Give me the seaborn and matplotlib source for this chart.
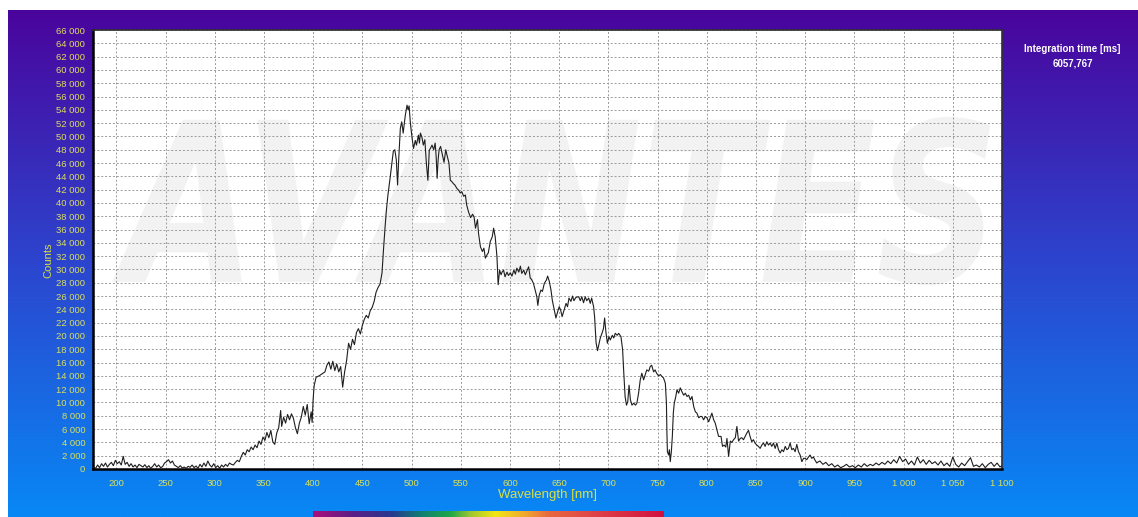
import numpy as np
import pandas as pd
import matplotlib
matplotlib.use("Agg")
import matplotlib.pyplot as plt
import seaborn as sns
from matplotlib.ticker import MultipleLocator, FuncFormatter
from matplotlib.textpath import TextPath
from matplotlib.patches import PathPatch
from matplotlib.font_manager import FontProperties
from matplotlib.colors import LinearSegmentedColormap
from matplotlib.transforms import Affine2D

# ---------------- data ----------------
wl_base = [177, 179, 181, 183, 185, 187, 189, 191, 193, 195,
           197, 199, 201, 203, 205, 207, 209, 211, 213, 215,
           217, 219, 221, 223, 225, 227, 229, 231, 233, 235,
           237, 239, 241, 243, 245, 247, 249, 251, 253, 255,
           257, 259, 261, 263, 265, 267, 269, 271, 273, 275,
           277, 279, 281, 283, 285, 287, 289, 291, 293, 295,
           297, 299, 301, 303, 305, 307, 309, 311, 313, 315]
cnt_base = [300, 100, 600, 200, 800, 400, 900, 300, 700, 1000,
            500, 1300, 800, 1100, 600, 1900, 700, 1000, 400, 800,
            300, 600, 200, 700, 500, 300, 650, 200, 500, 100,
            400, 800, 300, 600, 200, 350, 900, 1100, 1400, 900,
            1200, 600, 400, 200, 500, 150, 300, 100, 400, 250,
            600, 200, 450, 100, 700, 300, 900, 400, 1200, 600,
            300, 800, 200, 500, 100, 600, 300, 700, 400, 900]

wl_rise = [317, 319, 321, 323, 325, 327, 329, 331, 333, 335,
           337, 339, 341, 343, 345, 347, 349, 351, 353, 355,
           357, 359, 361, 363, 365, 367, 368, 370, 372, 374,
           376, 378, 380, 382, 384, 386, 388, 390, 392, 394,
           396, 398, 399, 400, 401, 403, 406, 409, 412, 414,
           416, 418, 420, 422, 424, 426, 428, 430, 432, 434,
           436, 438, 440, 442, 444, 446, 448, 450, 452, 454,
           456, 458, 460, 462, 464, 466, 468, 470]
cnt_rise = [700, 600, 1000, 1300, 1100, 1900, 2500, 2100, 2900, 2600,
            3300, 2900, 3600, 3200, 4200, 3700, 4800, 4300, 5500, 4700,
            5800, 4100, 3700, 5400, 6200, 8800, 6400, 7800, 6900, 8200,
            7400, 8300, 7600, 6200, 5300, 6900, 7800, 9400, 8100, 9700,
            6800, 8600, 7000, 10500, 12500, 13800, 14000, 14300, 14600, 15600,
            16100, 15000, 16200, 14800, 15800, 14600, 15400, 12300, 14600, 16300,
            18900, 18000, 19500, 18700, 20500, 21100, 20300, 21600, 22500, 23100,
            22700, 23800, 24300, 25200, 26600, 27300, 27800, 29500]

wl_peak = [471.5, 473, 474.5, 476, 478, 480, 481.5, 483, 484.5, 485.8,
           487, 488.6, 490, 491.5, 492.5, 493.7, 495.4, 496.5, 497.5, 498.7,
           500.4, 502, 503.8, 505, 507, 508, 509, 510.5, 512, 513.5,
           515, 516.6, 518, 519.5, 520.8, 522.5, 524, 525, 526, 527,
           528, 529.5, 531, 533, 534.8, 536, 538, 539.4, 541, 542.5,
           544, 546, 547.9, 549.5, 551, 553, 554.7, 556, 558, 560]
cnt_peak = [33000, 36200, 39000, 41200, 43500, 46000, 47800, 48000, 46500, 42700,
            46700, 51200, 52200, 50500, 51800, 53200, 54700, 54000, 54600, 52200,
            49900, 48200, 49400, 48700, 50200, 49000, 50500, 49900, 48700, 49500,
            46100, 43400, 47900, 48300, 48700, 48000, 49000, 47000, 43700, 46500,
            48000, 48500, 47500, 46100, 48000, 47200, 46000, 43400, 43200, 42900,
            42700, 42200, 41900, 41500, 41700, 41000, 41200, 39700, 38600, 37800]

wl_mid = [562, 563.5, 565, 567, 568, 570, 572, 573.5, 575, 576.7,
          578, 580, 582, 583.4, 585, 586.8, 588, 589.5, 591, 592,
          593.5, 595, 597, 598.5, 600.4, 602, 604, 605.5, 607, 609,
          610.6, 612, 614, 615.6, 617, 619, 620.6, 622, 623.9, 625.6,
          627.3, 628.3, 629.7, 631.4, 633, 634.9, 637, 638.3, 640, 641.7,
          643, 645, 646.7, 648, 650, 651.5, 653, 655, 657, 658.5,
          660, 662, 663.6, 665, 667, 669.8, 671.5, 673, 674.8, 676.5,
          678, 680, 681.6, 683, 685, 686]
cnt_mid = [38300, 37900, 36200, 37500, 35500, 33400, 32700, 33200, 31700, 32200,
           32500, 34200, 34900, 36200, 34900, 31900, 27700, 29900, 29200, 29600,
           29900, 28900, 29600, 29100, 29500, 29000, 29900, 29300, 30200, 29600,
           30500, 29400, 29900, 29200, 29700, 30400, 28700, 28500, 27900, 26900,
           25900, 24600, 26100, 26900, 26700, 27900, 28400, 29000, 28200, 26900,
           25400, 23900, 22700, 23400, 24400, 23900, 22900, 23900, 24900, 24400,
           25700, 25200, 26000, 25300, 25800, 25900, 25300, 25900, 25000, 25900,
           25300, 25700, 24900, 25700, 24400, 22900]

wl_red = [687.5, 689, 690.5, 691.8, 693.5, 695, 696.2, 697.5, 699, 700.6,
          702, 704, 705.5, 707, 709, 710.5, 712.8, 714.5, 715.5, 717,
          718.4, 719.7, 721, 722.4, 724, 725.7, 727.5, 729, 730.7, 732.4,
          734, 735.8, 737.5, 739, 741, 742.5, 744, 746, 747.5, 749,
          751, 752.8, 754.5, 756, 757.9, 759, 759.5, 760, 761.2, 762,
          762.9, 764, 765, 766, 767, 768.5, 769.7, 771.4, 773.1, 774.8,
          776.5, 778.2, 779.9, 781.6, 783.3, 785, 786.7, 788.4, 790, 791.8,
          793.5, 795, 796.8, 798.5, 800.2, 801.9, 803.5, 805.2, 807, 808.6,
          810.3, 812]
cnt_red = [19000, 17800, 18800, 19700, 20400, 21100, 22700, 20600, 18900, 19900,
           19400, 20100, 19700, 20400, 20100, 20400, 19900, 17900, 14900, 10900,
           9600, 10100, 12600, 10400, 9600, 9900, 9600, 9900, 11400, 13400,
           14400, 13400, 14200, 14900, 14700, 15400, 15600, 14600, 14900, 14400,
           14000, 14200, 13900, 13700, 12900, 9900, 5400, 2600, 2100, 2900,
           1100, 2600, 4900, 8400, 9900, 10900, 11900, 11400, 12200, 11600,
           11100, 11400, 10900, 11100, 10400, 10900, 9400, 8600, 8400, 7700,
           7900, 7900, 7400, 7900, 7700, 7100, 7700, 8400, 7400, 6900,
           5900, 4900]

wl_tail = [814.5, 816, 817.7, 819.3, 820.5, 822.2, 823.9, 825.5, 827.2, 829,
           830.6, 832.3, 834, 835.6, 837.3, 839, 840.7, 842.4, 844, 845.7,
           847.4, 849, 850.8, 852.5, 854.2, 855.9, 857.6, 859.3, 861, 862.7,
           864.4, 866.1, 867.8, 869.5, 871.2, 872.9, 874.6, 876.3, 878, 879.7,
           881.4, 883, 884.7, 886.4, 888.1, 889.8, 891.5, 893.2, 894.9, 896.6,
           898.3, 899.9, 901.6, 903.3, 905, 906.7, 908.4, 910.1, 911.8, 913.5]
cnt_tail = [4900, 3400, 3600, 3300, 4600, 1900, 4200, 4000, 4400, 4700,
            6400, 4200, 4600, 4700, 4400, 4900, 5400, 5800, 4900, 4100,
            4400, 3900, 3600, 3400, 3100, 3600, 3900, 3400, 4100, 3600,
            3900, 3400, 3900, 3100, 3900, 2900, 2400, 2900, 2600, 3400,
            2900, 3100, 3900, 2900, 3100, 2600, 3700, 2600, 2100, 1100,
            1600, 1600, 1400, 1800, 2100, 1600, 1800, 1300, 900, 1100]

wl_ir = [915, 918, 921, 924, 927, 930, 933, 936, 939, 942,
         945, 948, 951, 954, 957, 960, 963, 966, 969, 972,
         975, 978, 981, 984, 987, 990, 993, 996, 999, 1002,
         1005, 1008, 1011, 1014, 1017, 1020, 1023, 1026, 1029, 1032,
         1035, 1038, 1041, 1044, 1047, 1050, 1053, 1056, 1059, 1062,
         1065, 1068, 1071, 1074, 1077, 1080, 1083, 1086, 1089, 1092,
         1095, 1098, 1101]
cnt_ir = [1200, 700, 1000, 500, 800, 300, 600, 200, 400, 700,
          300, 500, 200, 600, 300, 800, 400, 700, 500, 900,
          600, 1000, 700, 1200, 800, 1400, 900, 1900, 1100, 1500,
          700, 1200, 600, 1800, 900, 1400, 700, 1300, 800, 1100,
          600, 1200, 500, 900, 400, 1800, 700, 300, 900, 500,
          1100, 1700, 400, 600, 300, 800, 200, 700, 1000, 400,
          900, 300, 600]

integration_label = "Integration time [ms]"
integration_value = "6057,767"
x_label = "Wavelength [nm]"
y_label = "Counts"
watermark = "AVANTES"

wavelength = wl_base + wl_rise + wl_peak + wl_mid + wl_red + wl_tail + wl_ir
counts = cnt_base + cnt_rise + cnt_peak + cnt_mid + cnt_red + cnt_tail + cnt_ir
df = pd.DataFrame({"Wavelength": wavelength, "Counts": counts})

# ---------------- style ----------------
sns.set_style("white")
plt.rcParams['font.family'] = ['Liberation Sans', 'DejaVu Sans']

W, H = 1138, 517
fig = plt.figure(figsize=(W / 100, H / 100), dpi=100)
fig.patch.set_facecolor('white')

# gradient background
bg = fig.add_axes([8 / W, 0, (W - 8) / W, (H - 10) / H], zorder=-10)
grad = np.linspace(0, 1, 256).reshape(-1, 1)
cmap_bg = LinearSegmentedColormap.from_list(
    'bg', [(0, '#4A049C'), (0.5, '#2C45CE'), (1, '#0888F5')])
bg.imshow(grad, aspect='auto', cmap=cmap_bg, extent=[0, 1, 0, 1], origin='upper')
bg.set_axis_off()

# main axes
ax = fig.add_axes([93 / W, (H - 469) / H, 909 / W, 439 / H])
ax.set_facecolor('white')

# watermark
fp = FontProperties(family='DejaVu Sans', weight='bold', style='italic')
tp = TextPath((0, 0), watermark, prop=fp, size=1)
ext = tp.get_extents()
x0, x1, y0, y1 = 0.021, 0.987, 0.419, 0.802
tr = (Affine2D().translate(-ext.x0, -ext.y0)
      .scale((x1 - x0) / ext.width, (y1 - y0) / ext.height)
      .translate(x0, y0) + ax.transAxes)
ax.add_patch(PathPatch(tp, transform=tr, facecolor='#F2F2F2',
                       edgecolor='none', zorder=0.2))

sns.lineplot(data=df, x="Wavelength", y="Counts", ax=ax, color='#1E1E1E',
             linewidth=0.8, estimator=None, sort=False, zorder=3)

ax.set_xlim(176.3, 1100)
ax.set_ylim(0, 66000)
ax.set_axisbelow(True)
ax.grid(True, which='major', color='#9A9A9A', linestyle=(0, (2, 2)), linewidth=0.7)

ax.xaxis.set_major_locator(MultipleLocator(50))
ax.xaxis.set_minor_locator(MultipleLocator(10))
ax.yaxis.set_major_locator(MultipleLocator(2000))
ax.yaxis.set_minor_locator(MultipleLocator(500))
fmt = FuncFormatter(lambda v, p: f"{int(round(v)):,}".replace(',', ' '))
ax.xaxis.set_major_formatter(fmt)
ax.yaxis.set_major_formatter(fmt)

tick_color = '#F2F000'
label_color = '#DCE05A'
ax.tick_params(which='major', length=4, width=1, color=tick_color,
               labelcolor=label_color, labelsize=6.8, direction='out', pad=1.5)
ax.tick_params(axis='x', which='major', pad=3)
ax.tick_params(which='minor', length=2, width=1, color=tick_color, direction='out')
ax.tick_params(top=False, right=False, which='both')

for s in ['top', 'right']:
    ax.spines[s].set_color('#303030')
    ax.spines[s].set_linewidth(1.2)
for s in ['left', 'bottom']:
    ax.spines[s].set_color('black')
    ax.spines[s].set_linewidth(1.8)

ax.set_xlabel(x_label, color='#DCE040', fontsize=9.5)
ax.xaxis.set_label_coords(0.5, (469 - 495) / 439)
ax.xaxis.label.set_va('center')
ax.set_ylabel(y_label, color='#DCE040', fontsize=8)
ax.yaxis.set_label_coords((48 - 93) / 909, (469 - 260) / 439)
ax.yaxis.label.set_va('center')

fig.text(1072.5 / W, 1 - 49.3 / H, integration_label, color='white',
         fontsize=7, fontweight='bold', ha='center', va='center')
fig.text(1072.5 / W, 1 - 63.3 / H, integration_value, color='white',
         fontsize=7, fontweight='bold', ha='center', va='center')

# wavelength colour strip under the x axis
stops_nm = [400, 440, 480, 510, 540, 560, 585, 615, 640, 680, 756]
stops_col = ['#A8107C', '#5A1E86', '#283A8E', '#108070', '#20A848', '#A0C830',
             '#F2E614', '#F0A830', '#E86840', '#E04848', '#D01040']
cmap_sp = LinearSegmentedColormap.from_list(
    'sp', [((n - 400) / 356, c) for n, c in zip(stops_nm, stops_col)])
sp = fig.add_axes([93 / W, 0, 909 / W, 6.3 / H])
sp.imshow(np.linspace(0, 1, 400).reshape(1, -1), cmap=cmap_sp,
          extent=[400, 756, 0, 1], aspect='auto')
sp.set_xlim(ax.get_xlim())
sp.set_ylim(0, 1)
sp.set_axis_off()

fig.savefig("out.png", dpi=100)
